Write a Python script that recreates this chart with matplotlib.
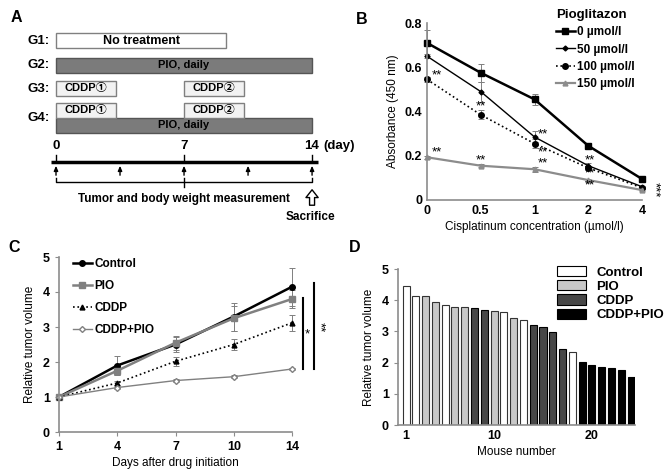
import matplotlib.pyplot as plt
import numpy as np
from matplotlib.patches import Rectangle

plt.rcParams['font.family'] = ['Liberation Sans', 'Noto Sans CJK JP', 'DejaVu Sans']
plt.rcParams['font.weight'] = 'bold'
plt.rcParams['font.size'] = 8

# ---- panel A: schedule ----
groups = ["G1:", "G2:", "G3:", "G4:"]
no_treat = (0, 9.3)
pio_days = (0, 14)
cddp_cycles = [(0, 3.3), (7, 10.3)]
cddp_labels = ["CDDP\u2460", "CDDP\u2461"]
measure_days = [0, 3.5, 7, 10.5, 14]
day_ticks = [0, 7, 14]

# ---- panel B: absorbance ----
conc = ["0", "0.5", "1", "2", "4"]
pio_labels = ["0 \u00b5mol/l", "50 \u00b5mol/l", "100 \u00b5mol/l", "150 \u00b5mol/l"]
abs_0 = [0.71, 0.575, 0.455, 0.245, 0.095]
abs_50 = [0.65, 0.49, 0.285, 0.155, 0.06]
abs_100 = [0.545, 0.385, 0.255, 0.145, 0.055]
abs_150 = [0.193, 0.155, 0.139, 0.09, 0.045]
err_0 = [0.06, 0.04, 0.025, 0.008, 0.006]
err_50 = [0.01, 0.045, 0.025, 0.01, 0.005]
err_100 = [0.01, 0.02, 0.02, 0.01, 0.005]
err_150 = [0.008, 0.008, 0.012, 0.006, 0.005]
# (x position on category axis, y) of the "**" marks
b_stars = [(0.19, 0.565), (0.19, 0.215), (1, 0.425), (1, 0.18), (2.16, 0.295),
           (2.16, 0.215), (2.16, 0.165), (3.03, 0.18), (3.03, 0.12), (3.03, 0.068)]

# ---- panel C: tumor growth ----
days = ["1", "4", "7", "10", "14"]
ctrl = [1, 1.9, 2.5, 3.3, 4.15]
pio = [1, 1.75, 2.55, 3.25, 3.8]
cddp = [1, 1.4, 2.02, 2.5, 3.12]
combo = [1, 1.27, 1.47, 1.58, 1.8]
ctrl_err = [0, 0.28, 0.22, 0.4, 0.55]
pio_err = [0, 0.12, 0.2, 0.35, 0.25]
cddp_err = [0, 0.05, 0.12, 0.15, 0.22]
combo_err = [0, 0.05, 0.05, 0.04, 0.04]

# ---- panel D: per-mouse volumes ----
mouse_vol = [4.46, 4.14, 4.12, 3.95, 3.84, 3.77, 3.77, 3.74, 3.69, 3.65, 3.62, 3.42,
             3.36, 3.2, 3.14, 2.97, 2.45, 2.33, 2.03, 1.93, 1.87, 1.82, 1.75, 1.55]
mouse_grp = [0, 0, 1, 1, 0, 1, 1, 2, 2, 1, 0, 1, 0, 2, 2, 2, 2, 0, 3, 3, 3, 3, 3, 3]
grp_names = ["Control", "PIO", "CDDP", "CDDP+PIO"]
grp_colors = ["white", "#c8c8c8", "#474747", "black"]

W, H = 669, 469
fig = plt.figure(figsize=(6.69, 4.69), dpi=100)


def box(px_left, px_top, px_w, px_h):
    return [px_left / W, 1 - (px_top + px_h) / H, px_w / W, px_h / H]


# ===== A =====
axa = fig.add_axes(box(0, 0, 340, 234))
axa.set_xlim(-56 / 18.29, (340 - 56) / 18.29)
axa.set_ylim(234, 0)
axa.axis('off')

row_y = [40.5, 65.5, 88.5, 118]
for g, y in zip(groups, row_y):
    axa.text(-0.35, y, g, ha='right', va='center', fontsize=9.5)

pio_col = "#7b7b7b"
edge = "#555555"
axa.add_patch(Rectangle((no_treat[0], 33), no_treat[1] - no_treat[0], 15,
                        fc='white', ec='#808080', lw=1))
axa.text(sum(no_treat) / 2, 40.5, "No treatment", ha='center', va='center', fontsize=9)
for top in (58, 118):
    axa.add_patch(Rectangle((pio_days[0], top), pio_days[1] - pio_days[0], 15,
                            fc=pio_col, ec=edge, lw=1))
    axa.text(sum(pio_days) / 2, top + 7.5, "PIO, daily", ha='center', va='center', fontsize=8)
for top in (81, 103):
    for (s, e), lab in zip(cddp_cycles, cddp_labels):
        axa.add_patch(Rectangle((s, top), e - s, 15, fc='#f2f2f2', ec='#808080', lw=1))
        axa.text((s + e) / 2, top + 7.5, lab, ha='center', va='center', fontsize=8)

for d in day_ticks:
    axa.text(d, 146, str(d), ha='center', va='center', fontsize=9.5)
    axa.plot([d, d], [155, 162], color='black', lw=1)
axa.text(14.6, 146, "(day)", ha='left', va='center', fontsize=9.5)
axa.plot([-0.3, 14.3], [162, 162], color='black', lw=2.5, solid_capstyle='butt')
for d in measure_days:
    axa.annotate('', xy=(d, 163), xytext=(d, 178),
                 arrowprops=dict(arrowstyle='-|>,head_width=0.15,head_length=0.35',
                                 color='black', lw=1))
axa.plot([0, 0, 14, 14], [178, 182, 182, 178], color='black', lw=1)
axa.plot([7, 7], [178, 187], color='black', lw=1)
axa.text(7, 199, "Tumor and body weight measurement", ha='center', va='center', fontsize=8.5)
axa.annotate('', xy=(14, 187), xytext=(14, 208),
             arrowprops=dict(arrowstyle='simple,head_width=1.1,head_length=0.7,tail_width=0.45',
                             fc='white', ec='black', lw=1))
axa.text(13.9, 217, "Sacrifice", ha='center', va='center', fontsize=8.5)

# ===== B =====
axb = fig.add_axes(box(427, 23, 215, 177))
xb = np.arange(len(conc))
styles = [
    (abs_0, err_0, dict(color='black', lw=1.8, marker='s', ms=4.5, ls='-')),
    (abs_50, err_50, dict(color='black', lw=1.0, marker='D', ms=2.5, ls='-')),
    (abs_100, err_100, dict(color='black', lw=1.2, marker='o', ms=4, ls=':')),
    (abs_150, err_150, dict(color='#8c8c8c', lw=1.6, marker='^', ms=3.5, ls='-')),
]
b_lines = []
for (vals, errs, st), lab in zip(styles, pio_labels):
    c = axb.errorbar(xb, vals, yerr=errs, ecolor='#7f7f7f', elinewidth=0.7, capsize=2,
                     capthick=0.7, label=lab, clip_on=False, **st)
    b_lines.append(c.lines[0])
for xi, yv in b_stars:
    axb.text(xi, yv, "**", ha='center', va='center', fontsize=9.5, fontweight='normal')
axb.text(4.12, 0.045, "***", ha='left', va='center', fontsize=9.5, fontweight='normal',
         rotation=-90)
axb.set_xlim(0, 4)
axb.set_ylim(0, 0.8)
axb.set_yticks([0, 0.2, 0.4, 0.6, 0.8])
axb.set_yticklabels(["0", "0.2", "0.4", "0.6", "0.8"])
axb.set_xticks(xb)
axb.set_xticklabels(conc)
axb.set_xlabel("Cisplatinum concentration (\u00b5mol/l)", fontsize=8.5, labelpad=3)
axb.set_ylabel("Absorbance (450 nm)", fontsize=8.5, labelpad=4)
axb.legend(b_lines, pio_labels, title="Pioglitazon", loc='upper left',
           bbox_to_anchor=(556 / W, 1 - 9 / H), bbox_transform=fig.transFigure,
           frameon=False, fontsize=8.5, title_fontproperties={'weight': 'bold', 'size': 9.5},
           labelspacing=0.45, handlelength=1.6, handletextpad=0.2, borderpad=0,
           borderaxespad=0, alignment='left')

# ===== C =====
axc = fig.add_axes(box(59, 257, 233, 175))
xc = np.arange(len(days))
c_series = [
    (ctrl, ctrl_err, "Control", dict(color='black', lw=1.8, marker='o', ms=4, ls='-')),
    (pio, pio_err, "PIO", dict(color='#808080', lw=1.8, marker='s', ms=4.5, ls='-')),
    (cddp, cddp_err, "CDDP", dict(color='black', lw=1.2, marker='^', ms=3.5, ls=':')),
    (combo, combo_err, "CDDP+PIO", dict(color='#808080', lw=1.0, marker='D', ms=3,
                                        ls='-', mfc='white')),
]
c_lines = []
for vals, errs, lab, st in c_series:
    c = axc.errorbar(xc, vals, yerr=errs, ecolor='#7f7f7f', elinewidth=0.7, capsize=2,
                     capthick=0.7, label=lab, clip_on=False, **st)
    c_lines.append(c.lines[0])
axc.plot([4.19, 4.19], [1.8, 3.83], color='black', lw=1.5, clip_on=False)
axc.plot([4.38, 4.38], [1.8, 4.26], color='black', lw=1.5, clip_on=False)
axc.text(4.27, 2.8, "*", ha='center', va='center', fontsize=9.5, fontweight='normal')
axc.text(4.47, 3.0, "**", ha='center', va='center', fontsize=9.5, fontweight='normal',
         rotation=-90)
axc.set_xlim(0, 4)
axc.set_ylim(0, 5)
axc.set_xticks(xc)
axc.set_xticklabels(days)
axc.set_yticks(range(6))
axc.set_xlabel("Days after drug initiation", fontsize=8.5, labelpad=3)
axc.set_ylabel("Relative tumor volume", fontsize=8.5, labelpad=5)
axc.legend(c_lines, [s[2] for s in c_series], loc='upper left',
           bbox_to_anchor=(73 / W, 1 - 258 / H), bbox_transform=fig.transFigure,
           frameon=False, fontsize=8.5, labelspacing=0.85, handlelength=1.6,
           handletextpad=0.2, borderpad=0, borderaxespad=0)

# ===== D =====
axd = fig.add_axes(box(398, 269, 237, 156))
mice = np.arange(1, len(mouse_vol) + 1)
axd.bar(mice, mouse_vol, width=0.72, color=[grp_colors[g] for g in mouse_grp],
        edgecolor=['#333333' if g < 2 else 'black' for g in mouse_grp], linewidth=0.8)
axd.set_xlim(0.18, 24.4)
axd.set_ylim(0, 5)
axd.set_xticks([1, 10, 20])
axd.set_yticks(range(6))
axd.set_xlabel("Mouse number", fontsize=8.5, labelpad=3)
axd.set_ylabel("Relative tumor volume", fontsize=8.5, labelpad=5)
handles = [Rectangle((0, 0), 1, 1, fc=c, ec='black', lw=0.8) for c in grp_colors]
axd.legend(handles, grp_names, loc='upper left', bbox_to_anchor=(557 / W, 1 - 266 / H),
           bbox_transform=fig.transFigure, frameon=False, fontsize=9.5,
           labelspacing=0.12, handlelength=2.2, handleheight=0.8, handletextpad=0.8,
           borderpad=0, borderaxespad=0)

for ax in (axb, axc, axd):
    for s in ('top', 'right'):
        ax.spines[s].set_visible(False)
    for s in ('left', 'bottom'):
        ax.spines[s].set_color('#8c8c8c')
        ax.spines[s].set_linewidth(1.2)
    ax.tick_params(colors='#8c8c8c', labelcolor='black', labelsize=9, length=3, width=0.8)
axb.tick_params(length=0)
axd.tick_params(axis='x', length=0)

for lab, (px, py) in zip("ABCD", [(16, 17), (362, 20), (14, 247), (355, 247)]):
    fig.text(px / W, 1 - py / H, lab, ha='center', va='center', fontsize=11.5, fontweight='bold')

fig.savefig("out.png", dpi=100)
